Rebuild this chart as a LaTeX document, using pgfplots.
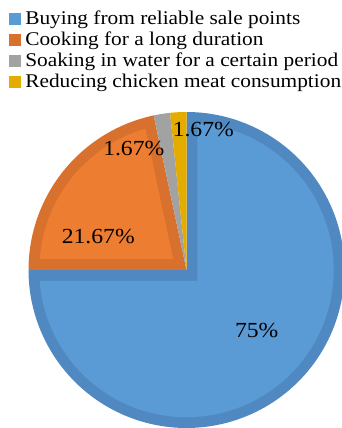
\documentclass[border=0pt]{standalone}
\usepackage{fontspec}
\setmainfont{Liberation Serif}[FakeStretch=1.1]
\usepackage{pgfplots}
\pgfplotsset{compat=1.18}

\definecolor{blueL}{HTML}{5B9BD5}
\definecolor{blueD}{HTML}{5089C2}
\definecolor{orangeL}{HTML}{ED7D31}
\definecolor{orangeD}{HTML}{D8702E}
\definecolor{grayD}{HTML}{A2A2A2}
\definecolor{goldD}{HTML}{E5AC00}

% shares (per cent), clockwise from 12 o'clock
\def\vBuy{75}
\def\vCook{21.67}
\def\vSoak{1.67}
\def\vReduce{1.67}

% radius and border width (axis units)
\def\R{158}
\def\bw{10.8}

\pgfmathsetmacro\aA{90}
\pgfmathsetmacro\aB{\aA-3.6*\vBuy}
\pgfmathsetmacro\aC{\aB-3.6*\vCook}
\pgfmathsetmacro\aD{\aC-3.6*\vSoak}
\pgfmathsetmacro\aE{\aD-3.6*\vReduce}
% inset of the border along the arc
\pgfmathsetmacro\Ri{\R-\bw}
\pgfmathsetmacro\dA{asin(\bw/\Ri)}
% inner corners of the bordered wedges
\pgfmathsetmacro\cBx{\bw/sin((\aA-\aB)/2)*cos((\aA+\aB)/2)}
\pgfmathsetmacro\cBy{\bw/sin((\aA-\aB)/2)*sin((\aA+\aB)/2)}
\pgfmathsetmacro\cCx{\bw/sin((\aB-\aC)/2)*cos((\aB+\aC)/2)}
\pgfmathsetmacro\cCy{\bw/sin((\aB-\aC)/2)*sin((\aB+\aC)/2)}
\pgfmathsetmacro\bBlo{\aB+\dA}
\pgfmathsetmacro\bBhi{\aA-\dA}
\pgfmathsetmacro\bClo{\aC+\dA}
\pgfmathsetmacro\bChi{\aB-\dA}

\newcommand\labelfont{\fontsize{21.5bp}{21.5bp}\selectfont}

\begin{document}
\begin{tikzpicture}
\begin{axis}[
  width=342bp, height=428bp, scale only axis,
  xmin=-186.5, xmax=155.5, ymin=-158, ymax=270,
  hide axis, clip=false,
  legend cell align=left,
  legend image code/.code={\fill[#1, draw=none] (0bp,-6bp) rectangle (12bp,6bp);},
  legend style={
    at={(axis cs:-177.5,259)}, anchor=north west,
    draw=none, fill=none, inner sep=0pt, outer sep=0pt,
    row sep=3.9bp, column sep=4.3bp,
    font=\fontsize{19.4bp}{20.9bp}\selectfont,
    nodes={inner sep=0pt, outer sep=0pt, text height=14bp, text depth=3bp},
  },
]
% Buying from reliable sale points
\addplot[forget plot, draw=none, fill=blueD, domain=\aB:\aA, samples=150, variable=\t]
  ({\R*cos(\t)}, {\R*sin(\t)}) -- (axis cs:0,0) -- cycle;
\addplot[forget plot, draw=none, fill=blueL, domain=\bBlo:\bBhi, samples=150, variable=\t]
  ({\Ri*cos(\t)}, {\Ri*sin(\t)}) -- (axis cs:\cBx,\cBy) -- cycle;
% Cooking for a long duration
\addplot[forget plot, draw=none, fill=orangeD, domain=\aC:\aB, samples=60, variable=\t]
  ({\R*cos(\t)}, {\R*sin(\t)}) -- (axis cs:0,0) -- cycle;
\addplot[forget plot, draw=none, fill=orangeL, domain=\bClo:\bChi, samples=60, variable=\t]
  ({\Ri*cos(\t)}, {\Ri*sin(\t)}) -- (axis cs:\cCx,\cCy) -- cycle;
% Soaking in water for a certain period
\addplot[forget plot, draw=none, fill=grayD, domain=\aD:\aC, samples=10, variable=\t]
  ({\R*cos(\t)}, {\R*sin(\t)}) -- (axis cs:0,0) -- cycle;
% Reducing chicken meat consumption
\addplot[forget plot, draw=none, fill=goldD, domain=\aE:\aD, samples=10, variable=\t]
  ({\R*cos(\t)}, {\R*sin(\t)}) -- (axis cs:0,0) -- cycle;

\addlegendimage{fill=blueL}
\addlegendentry{Buying from reliable sale points}
\addlegendimage{fill=orangeD}
\addlegendentry{Cooking for a long duration}
\addlegendimage{fill=grayD}
\addlegendentry{Soaking in water for a certain period}
\addlegendimage{fill=goldD}
\addlegendentry{Reducing chicken meat consumption}

\node[anchor=base, inner sep=0pt, font=\labelfont] at (axis cs:70.2,-67.3) {75\%};
\node[anchor=base, inner sep=0pt, font=\labelfont] at (axis cs:-88.2,26) {21.67\%};
\node[anchor=base, inner sep=0pt, font=\labelfont] at (axis cs:-52.7,114.3) {1.67\%};
\node[anchor=base, inner sep=0pt, font=\labelfont] at (axis cs:16.8,133.3) {1.67\%};
\end{axis}
\pgfresetboundingbox
\useasboundingbox (current axis.south west) rectangle (current axis.north east);
\end{tikzpicture}
\end{document}
